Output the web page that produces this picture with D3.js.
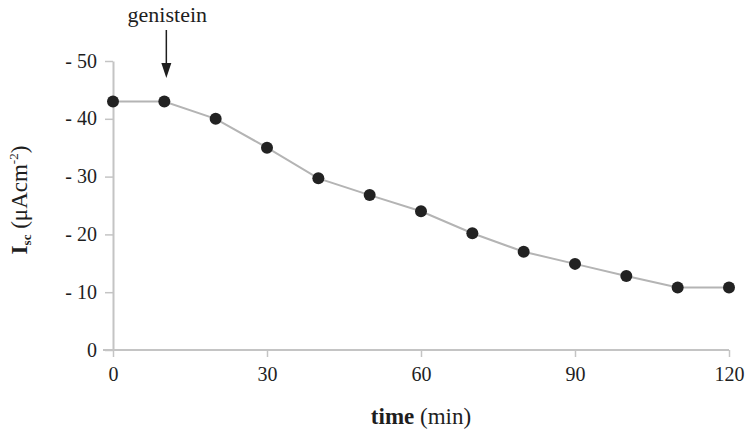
<!DOCTYPE html>
<html>
<head>
<meta charset="utf-8">
<script src="https://cdn.jsdelivr.net/npm/d3@7"></script>
<style>
  html, body { margin: 0; padding: 0; background: #ffffff; }
  svg { display: block; }
</style>
</head>
<body>
<svg id="chart" width="748" height="432"></svg>
<script>
// ---- data ----
const times = [0, 10, 20, 30, 40, 50, 60, 70, 80, 90, 100, 110, 120];
const iscValues = [-43, -43, -40, -35, -29.7, -26.8, -24, -20.2, -17, -14.9, -12.8, -10.8, -10.8];
const xTicks = [0, 30, 60, 90, 120];
const yTicks = [0, -10, -20, -30, -40, -50];
const annotationText = "genistein";
const annotationTime = 10;

// ---- layout ----
const FONT = '"Liberation Serif"';
const TXT = "#1e1e1e";
const svg = d3.select("#chart");
const x = d3.scaleLinear().domain([0, 120]).range([113, 729]);
const y = d3.scaleLinear().domain([0, -50]).range([350, 61]);

const axisColor = "#c4c4c4";

// y axis
const yAxis = svg.append("g")
  .attr("transform", `translate(${x(0)},0)`)
  .call(d3.axisLeft(y).tickValues(yTicks).tickSize(8).tickSizeOuter(0).tickPadding(8)
    .tickFormat(d => d === 0 ? "0" : "- " + Math.abs(d)));
yAxis.attr("font-family", null);
yAxis.select(".domain").attr("stroke", axisColor).attr("stroke-width", 2);
yAxis.selectAll(".tick line").attr("stroke", axisColor).attr("stroke-width", 1.5);
yAxis.selectAll(".tick text")
  .style("font-family", FONT).style("font-size", "20px").style("fill", TXT)
  .attr("dy", "0.3em");

// x axis
const xAxis = svg.append("g")
  .attr("transform", `translate(0,${y(0)})`)
  .call(d3.axisBottom(x).tickValues(xTicks).tickSize(7).tickSizeOuter(0).tickPadding(10)
    .tickFormat(d3.format("d")));
xAxis.attr("font-family", null);
xAxis.select(".domain").attr("stroke", axisColor).attr("stroke-width", 2)
  .attr("d", `M${x(0) - 10},0H${x(120)}`);
xAxis.selectAll(".tick line").attr("stroke", axisColor).attr("stroke-width", 1.5);
xAxis.selectAll(".tick text")
  .style("font-family", FONT).style("font-size", "20px").style("fill", TXT);

// line
const pts = times.map((t, i) => [t, iscValues[i]]);
svg.append("path")
  .datum(pts)
  .attr("fill", "none")
  .attr("stroke", "#b4b4b4")
  .attr("stroke-width", 2)
  .attr("d", d3.line().x(d => x(d[0])).y(d => y(d[1])));

// points
svg.append("g").selectAll("circle")
  .data(pts)
  .join("circle")
  .attr("cx", d => x(d[0]))
  .attr("cy", d => y(d[1]))
  .attr("r", 6)
  .attr("fill", "#222222");

// annotation
const ax = x(annotationTime) + 2;
svg.append("text")
  .attr("x", ax + 1).attr("y", 22)
  .attr("text-anchor", "middle")
  .style("font-family", FONT).style("font-size", "22px").style("fill", TXT)
  .text(annotationText);
svg.append("line")
  .attr("x1", ax).attr("x2", ax)
  .attr("y1", 30).attr("y2", 68)
  .attr("stroke", TXT).attr("stroke-width", 1.5);
svg.append("path")
  .attr("d", `M${ax - 5},63 L${ax + 5},63 L${ax},78 Z`)
  .attr("fill", TXT);

// x axis title
const xt = svg.append("text")
  .attr("x", 421).attr("y", 424)
  .attr("text-anchor", "middle")
  .style("font-family", FONT).style("font-size", "23px").style("fill", TXT);
xt.append("tspan").style("font-weight", "bold").text("time");
xt.append("tspan").text(" (min)");

// y axis title
const yt = svg.append("text")
  .attr("transform", "translate(27,200) rotate(-90)")
  .attr("text-anchor", "middle")
  .style("font-family", FONT).style("font-size", "23px").style("fill", TXT);
yt.append("tspan").style("font-weight", "bold").text("I");
yt.append("tspan").style("font-weight", "bold").style("font-size", "13px").attr("dy", 4).text("sc");
yt.append("tspan").attr("dy", -4).text(" (μAcm");
yt.append("tspan").style("font-size", "13px").attr("dy", -9).text("-2");
yt.append("tspan").attr("dy", 9).text(")");
</script>
</body>
</html>
